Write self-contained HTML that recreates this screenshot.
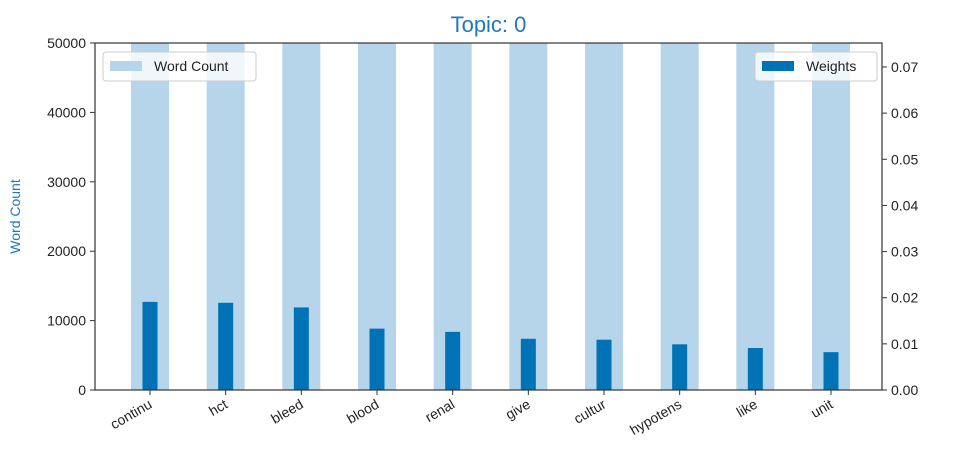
<!DOCTYPE html>
<html><head><meta charset="utf-8"><style>
body{margin:0;background:#fff;}
svg{font-family:"Liberation Sans","DejaVu Sans",sans-serif;}
</style></head><body>
<svg id="chart" width="953" height="460" xmlns="http://www.w3.org/2000/svg"></svg>
<script>
const categories=["continu","hct","bleed","blood","renal","give","cultur","hypotens","like","unit"];
const wordCounts=[62000,60000,58000,57000,56000,55000,54000,53000,52000,51000];
const weights=[0.0191,0.0189,0.0179,0.0133,0.0126,0.0111,0.0109,0.0099,0.0091,0.0082];
const leftTicks=[0,10000,20000,30000,40000,50000];
const rightTicks=[0,0.01,0.02,0.03,0.04,0.05,0.06,0.07];
const L=95,R=882,T=43,B=390;
const leftMax=50000,rightMax=0.0752;
const step=(831-150)/(categories.length-1);
const xc=i=>150+step*i;
const yl=v=>B-(Math.min(v,leftMax)/leftMax)*(B-T);
const yr=v=>B-(v/rightMax)*(B-T);
const svg=document.getElementById('chart');
const NS="http://www.w3.org/2000/svg";
function mk(tag,attrs,parent){const e=document.createElementNS(NS,tag);for(const k in attrs)e.setAttribute(k,attrs[k]);(parent||svg).appendChild(e);return e;}
let t=mk('text',{x:(L+R)/2,y:32,'text-anchor':'middle','font-size':22,fill:'#1f7ab8'});t.textContent='Topic: 0';

categories.forEach((c,i)=>{const r=mk('rect',{x:xc(i)-19,y:yl(wordCounts[i]),width:38,height:B-yl(wordCounts[i]),fill:'#b6d5ea'});
});
categories.forEach((c,i)=>{const r=mk('rect',{x:xc(i)-7.5,y:yr(weights[i]),width:15,height:B-yr(weights[i]),fill:'#0072b5'});
});
let f=mk('rect',{x:L,y:T,width:R-L,height:B-T,fill:'none',stroke:'#333','stroke-width':1.2});

leftTicks.forEach(v=>{const y=yl(v);mk('line',{x1:L-5,x2:L,y1:y,y2:y,stroke:'#333'});
const tx=mk('text',{x:L-9,y:y+5,'text-anchor':'end','font-size':14,fill:'#222'});tx.textContent=v;
});
rightTicks.forEach(v=>{const y=yr(v);mk('line',{x1:R,x2:R+5,y1:y,y2:y,stroke:'#333'});
const tx=mk('text',{x:R+9,y:y+5,'text-anchor':'start','font-size':14,fill:'#222'});tx.textContent=v.toFixed(2);
});
categories.forEach((c,i)=>{const x=xc(i);mk('line',{x1:x,x2:x,y1:B,y2:B+5,stroke:'#333'});
const tx=mk('text',{x:x+3,y:B+17,'text-anchor':'end','font-size':14,fill:'#222',transform:`rotate(-30 ${x+3} ${B+17})`});tx.textContent=c;
});
let yt=mk('text',{x:20,y:(T+B)/2,'text-anchor':'middle','font-size':14,fill:'#1f7ab8',transform:`rotate(-90 20 ${(T+B)/2})`});yt.textContent='Word Count';

let lg1=mk('g',{});
mk('rect',{x:103,y:52,width:153,height:29,rx:3,fill:'#fff','fill-opacity':0.8,stroke:'#ccc'},lg1);
mk('rect',{x:110,y:61,width:32,height:10,fill:'#b6d5ea'},lg1);
let l1=mk('text',{x:154,y:71,'font-size':14,fill:'#222'},lg1);l1.textContent='Word Count';
let lg2=mk('g',{});
mk('rect',{x:755,y:52,width:122,height:29,rx:3,fill:'#fff','fill-opacity':0.8,stroke:'#ccc'},lg2);
mk('rect',{x:762,y:61,width:32,height:10,fill:'#0072b5'},lg2);
let l2=mk('text',{x:806,y:71,'font-size':14,fill:'#222'},lg2);l2.textContent='Weights';
</script>
</body></html>
